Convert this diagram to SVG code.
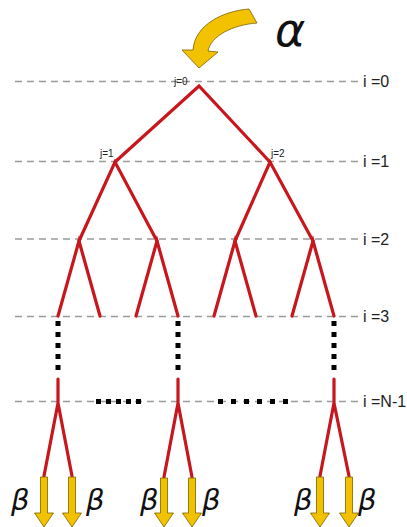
<svg xmlns="http://www.w3.org/2000/svg" width="407" height="527" viewBox="0 0 407 527">
<style>
.grid{stroke:#9a9a9a;stroke-width:1.3;stroke-dasharray:7 5;fill:none}
.edge{stroke:#c8161d;stroke-width:3.2;fill:none;stroke-linecap:round}
.dots{stroke:#000;stroke-width:5;stroke-dasharray:5 6;fill:none}
.lvl{font-family:"Liberation Sans",Arial,sans-serif;font-size:16px;fill:#222}
.jl{font-family:"Liberation Sans",Arial,sans-serif;font-size:10px;fill:#222}
.greek{font-family:"DejaVu Sans","Liberation Sans",sans-serif;font-style:italic;fill:#111}
.yarrow{fill:#f2c200;stroke:#7a6200;stroke-width:0.8}
</style>
<rect width="407" height="527" fill="#fff"/>
<g id="levels">
<line class="grid" x1="15" y1="81.5" x2="358" y2="81.5"/>
<line class="grid" x1="15" y1="161.5" x2="358" y2="161.5"/>
<line class="grid" x1="15" y1="239" x2="358" y2="239"/>
<line class="grid" x1="15" y1="316.5" x2="358" y2="316.5"/>
<line class="grid" x1="15" y1="401.5" x2="358" y2="401.5"/>
<text class="lvl" x="363" y="87">i =0</text>
<text class="lvl" x="363" y="167">i =1</text>
<text class="lvl" x="363" y="244.5">i =2</text>
<text class="lvl" x="363" y="322">i =3</text>
<text class="lvl" x="363" y="407">i =N-1</text>
</g>
<g id="connectors">
<path class="edge" d="M115,162 L199,86 L270,162"/>
<path class="edge" d="M79,241 L115,162 L157,241"/>
<path class="edge" d="M235,241 L270,162 L313,241"/>
<path class="edge" d="M58,316 L79,241 L100,316"/>
<path class="edge" d="M136,316 L157,241 L178,316"/>
<path class="edge" d="M214,316 L235,241 L256,316"/>
<path class="edge" d="M292,316 L313,241 L334,316"/>
<path class="edge" d="M58,379 L58,403 M44,476 L58,403 L72,476"/>
<path class="edge" d="M178,379 L178,403 M164,477 L178,403 L192,477"/>
<path class="edge" d="M334,379 L334,403 M320,476 L334,403 L349,476"/>
<line class="dots" x1="58" y1="321" x2="58" y2="372"/>
<line class="dots" x1="178" y1="321" x2="178" y2="372"/>
<line class="dots" x1="334" y1="321" x2="334" y2="372"/>
<line class="dots" x1="96" y1="401.5" x2="145" y2="401.5" style="stroke-dasharray:5 5"/>
<line class="dots" x1="218" y1="401.5" x2="288" y2="401.5" style="stroke-dasharray:5 8"/>
</g>
<g id="root">
<text class="jl" x="174" y="84.5">j=0</text>
</g>
<g id="node-j1">
<text class="jl" x="100" y="157">j=1</text>
</g>
<g id="node-j2">
<text class="jl" x="271" y="157">j=2</text>
</g>
<g id="alpha">
<path class="yarrow" d="M249,9 C224,11 195,24 193,50 L182,50 L199,68 L218,52 L208,51 C211,36 232,25 257,23 Z"/>
<text class="greek" x="275" y="46" font-size="46">α</text>
</g>
<g id="outputs">
<path class="yarrow" d="M40.5,477 h7 v36 h6 l-9.5,14 l-9.5,-14 h6 z"/>
<path class="yarrow" d="M68.5,477 h7 v36 h6 l-9.5,14 l-9.5,-14 h6 z"/>
<path class="yarrow" d="M160.5,478 h7 v35 h6 l-9.5,14 l-9.5,-14 h6 z"/>
<path class="yarrow" d="M188.5,478 h7 v35 h6 l-9.5,14 l-9.5,-14 h6 z"/>
<path class="yarrow" d="M316.5,477 h7 v36 h6 l-9.5,14 l-9.5,-14 h6 z"/>
<path class="yarrow" d="M345.5,477 h7 v36 h6 l-9.5,14 l-9.5,-14 h6 z"/>
<text class="greek" font-size="29" x="11" y="510">β</text>
<text class="greek" font-size="29" x="86" y="510">β</text>
<text class="greek" font-size="29" x="140" y="510">β</text>
<text class="greek" font-size="29" x="202" y="510">β</text>
<text class="greek" font-size="29" x="294" y="510">β</text>
<text class="greek" font-size="29" x="358" y="510">β</text>
</g>
</svg>
